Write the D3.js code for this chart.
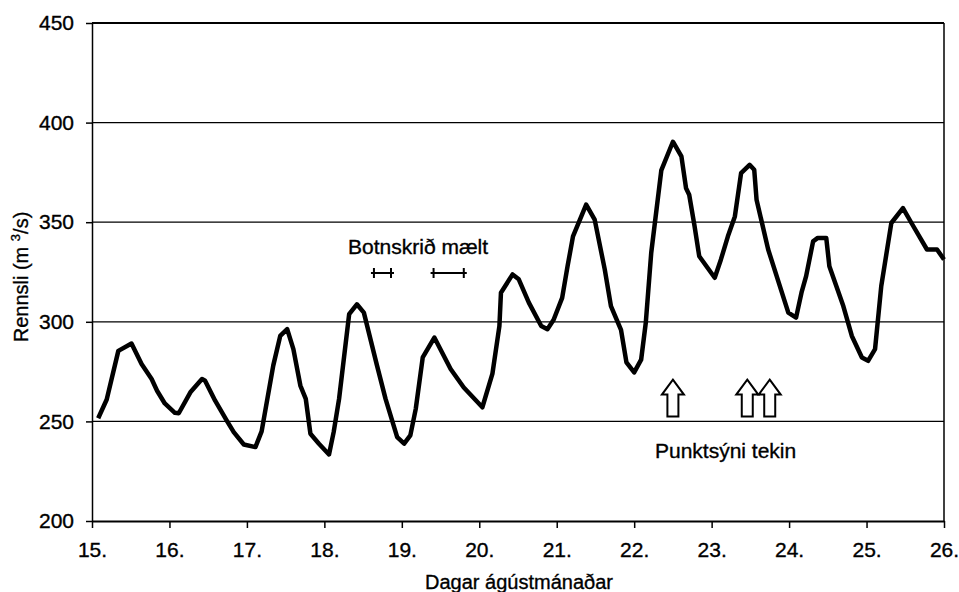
<!DOCTYPE html>
<html>
<head>
<meta charset="utf-8">
<script src="https://cdn.jsdelivr.net/npm/d3@7"></script>
<style>
body { margin: 0; background: #fff; }
text { font-family: "Liberation Sans", Arial, sans-serif; fill: #000; stroke: #000; stroke-width: 0.35px; }
</style>
</head>
<body>
<svg id="chart" width="959" height="592"></svg>
<script>
// Rennsli (m3/s), time in days of August
var days = [15.08, 15.19, 15.34, 15.51, 15.64, 15.77, 15.84, 15.94, 16.07, 16.12,
    16.27, 16.42, 16.46, 16.59, 16.74, 16.83, 16.96, 17.11, 17.19, 17.34,
    17.43, 17.52, 17.60, 17.69, 17.76, 17.82, 17.93, 18.06, 18.12, 18.19,
    18.32, 18.42, 18.51, 18.68, 18.79, 18.94, 19.03, 19.11, 19.18, 19.27,
    19.42, 19.63, 19.80, 20.04, 20.17, 20.26, 20.28, 20.43, 20.51, 20.64,
    20.80, 20.88, 20.96, 21.07, 21.14, 21.21, 21.38, 21.49, 21.62, 21.70,
    21.83, 21.90, 22.00, 22.09, 22.15, 22.22, 22.35, 22.50, 22.61, 22.67,
    22.71, 22.78, 22.84, 23.04, 23.12, 23.21, 23.30, 23.38, 23.49, 23.55,
    23.58, 23.73, 23.99, 24.09, 24.16, 24.22, 24.31, 24.37, 24.48, 24.52,
    24.70, 24.81, 24.94, 25.02, 25.11, 25.19, 25.32, 25.47, 25.58, 25.78,
    25.91, 26.00];
var flow = [251.6, 261, 285.4, 289.1, 278.8, 271.3, 265.4, 259, 254.3, 254.1,
    264.6, 271.3, 270.4, 260.4, 250.4, 244.6, 238.4, 237.1, 245, 278,
    292.9, 296.3, 286.3, 268, 261.3, 243.8, 238.8, 233.4, 244.6, 261.3,
    303.8, 308.8, 304.6, 278, 261.3, 242.1, 238.8, 243, 256.3, 282.1,
    292.1, 276.3, 267, 257.1, 274, 297.9, 314.6, 323.8, 321.3, 309.6,
    297.9, 296.3, 301, 312, 327.9, 342.9, 358.8, 351.3, 326.3, 307.9,
    296, 279.6, 274.6, 281, 299.6, 334.6, 376, 390.4, 383, 367,
    363.8, 347.9, 332.9, 322.1, 331.3, 342.9, 352.9, 374.6, 378.8, 376.3,
    361.3, 336.3, 304.6, 302.1, 314.6, 322.9, 340.4, 342.1, 342.1, 327.9,
    307.9, 292.9, 282.1, 280.4, 286.3, 317.9, 349.6, 357.1, 349.6, 336.3,
    336.3, 331.3];

var dayTicks = [15, 16, 17, 18, 19, 20, 21, 22, 23, 24, 25, 26];
var flowTicks = [200, 250, 300, 350, 400, 450];

// bed load measured (from, to) and spot samples taken
var botnFrom = [18.64, 19.41];
var botnTo = [18.86, 19.80];
var botnLevel = 324.5;
var sampleDays = [22.5, 23.46, 23.75];
var sampleLevel = 271;

var svg = d3.select("#chart");

var x = d3.scaleLinear().domain([15, 26]).range([92, 944]);
var y = d3.scaleLinear().domain([200, 450]).range([521, 23]);

//Gridlines
svg.append("g").selectAll("line")
    .data(flowTicks.slice(1, -1))
    .enter().append("line")
    .attr("x1", x(15)).attr("x2", x(26))
    .attr("y1", function (d) { return y(d); })
    .attr("y2", function (d) { return y(d); })
    .style("stroke", "#000")
    .style("stroke-width", "1.2px");

// top line and right border
svg.append("line")
    .attr("x1", x(15)).attr("x2", x(26))
    .attr("y1", y(450)).attr("y2", y(450))
    .style("stroke", "#000").style("stroke-width", "2px");
svg.append("line")
    .attr("x1", x(26)).attr("x2", x(26))
    .attr("y1", y(450)).attr("y2", y(200))
    .style("stroke", "#000").style("stroke-width", "1.5px");

//Axes
var xAxis = svg.append("g")
    .attr("transform", "translate(0," + y(200) + ")")
    .call(d3.axisBottom(x).tickValues(dayTicks)
        .tickFormat(function (d) { return d + "."; })
        .tickSize(7).tickSizeOuter(0).tickPadding(14));
var yAxis = svg.append("g")
    .attr("transform", "translate(" + x(15) + ",0)")
    .call(d3.axisLeft(y).tickValues(flowTicks)
        .tickSize(6).tickSizeOuter(0).tickPadding(12));

xAxis.select(".domain").style("stroke-width", "2px");
yAxis.select(".domain").style("stroke-width", "1.5px");
svg.selectAll(".tick line").style("stroke-width", "1.5px");
svg.selectAll(".tick text")
    .style("font-family", "'Liberation Sans Narrow', 'Arial Narrow', sans-serif")
    .style("font-size", "21px");

//Flow curve
var line = d3.line()
    .x(function (d, i) { return x(days[i]); })
    .y(function (d) { return y(d); });

svg.append("path")
    .attr("d", line(flow))
    .style("fill", "none")
    .style("stroke", "#000")
    .style("stroke-width", "4.5px")
    .style("stroke-linejoin", "round");

//Bed load markers
var marks = svg.append("g");
botnFrom.forEach(function (d, i) {
    var x0 = x(d), x1 = x(botnTo[i]), yy = y(botnLevel);
    marks.append("line")
        .attr("x1", x0 - 3).attr("x2", x1 + 3)
        .attr("y1", yy).attr("y2", yy);
    marks.append("line")
        .attr("x1", x0).attr("x2", x0)
        .attr("y1", yy - 5).attr("y2", yy + 5);
    marks.append("line")
        .attr("x1", x1).attr("x2", x1)
        .attr("y1", yy - 5).attr("y2", yy + 5);
});
marks.selectAll("line").style("stroke", "#000").style("stroke-width", "2px");

svg.append("text")
    .attr("x", x(19.21)).attr("y", y(334))
    .attr("text-anchor", "middle")
    .style("font-size", "21px")
    .text("Botnskrið mælt");

//Sample arrows
svg.append("g").selectAll("path")
    .data(sampleDays)
    .enter().append("path")
    .attr("transform", function (d) {
        return "translate(" + x(d) + "," + y(sampleLevel) + ")";
    })
    .attr("d", "M0,0L11,15L5.5,15L5.5,37L-5.5,37L-5.5,15L-11,15Z")
    .style("fill", "#fff")
    .style("stroke", "#000")
    .style("stroke-width", "2px")
    .style("stroke-linejoin", "miter");

svg.append("text")
    .attr("x", x(23.18)).attr("y", y(231.5))
    .attr("text-anchor", "middle")
    .style("font-size", "21px")
    .text("Punktsýni tekin");

//Axis titles
var ylab = svg.append("text")
    .attr("transform", "translate(28," + 277 + ") rotate(-90)")
    .attr("text-anchor", "middle")
    .style("font-size", "20px");
ylab.append("tspan").text("Rennsli (m ");
ylab.append("tspan").attr("dy", -8).style("font-size", "13px").text("3");
ylab.append("tspan").attr("dy", 8).text("/s)");

svg.append("text")
    .attr("x", 519).attr("y", 589)
    .attr("text-anchor", "middle")
    .style("font-size", "20px")
    .text("Dagar ágústmánaðar");
</script>
</body>
</html>
